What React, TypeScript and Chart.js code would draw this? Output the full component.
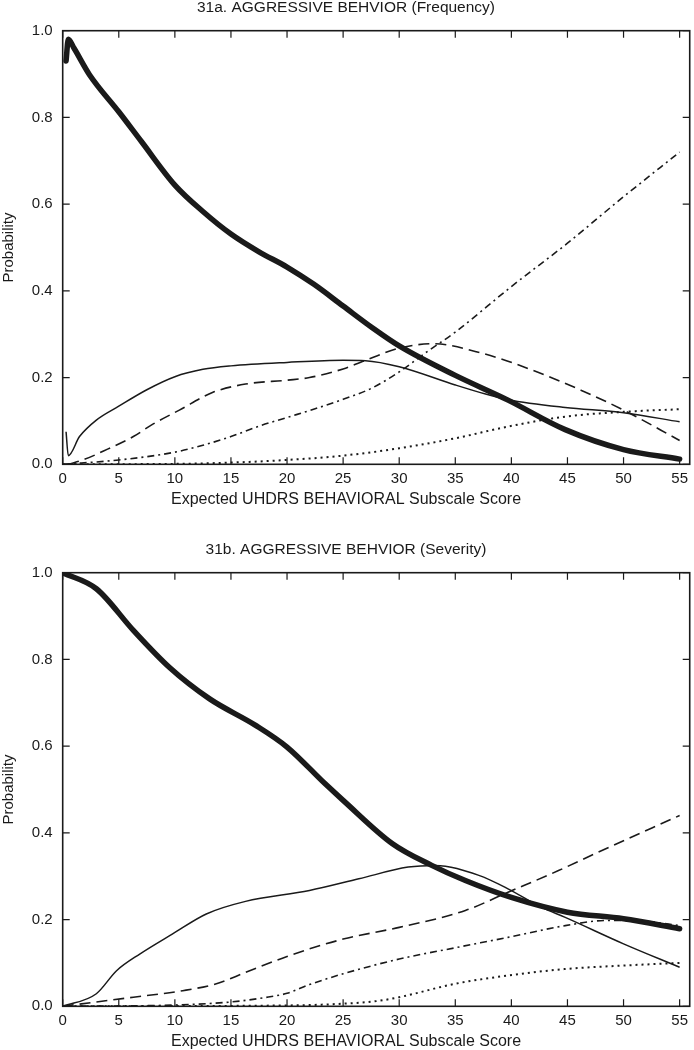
import React, { useEffect, useRef } from "react";
import { Chart, registerables } from "chart.js";

Chart.register(...registerables);

// ---------- Data ----------
const xTicks = [0, 5, 10, 15, 20, 25, 30, 35, 40, 45, 50, 55];
const yTicks = [0, 0.2, 0.4, 0.6, 0.8, 1.0];

// 31a. Frequency
const aThickX = [0.3, 0.5, 1, 2.4, 5, 7, 10, 12.5, 15, 17.5, 20, 22.4, 25, 27.6, 30, 35, 39.7, 44.8, 50, 55];
const aThickY = [0.93, 0.98, 0.96, 0.898, 0.813, 0.745, 0.644, 0.583, 0.531, 0.49, 0.455, 0.415, 0.365, 0.315, 0.273, 0.205, 0.148, 0.08, 0.034, 0.012];
const aThinX = [0.3, 0.5, 1.5, 3, 5, 7.5, 10, 12.5, 15, 20, 25, 27, 30, 35, 37.7, 39.7, 44.8, 50, 55];
const aThinY = [0.075, 0.02, 0.064, 0.102, 0.134, 0.172, 0.202, 0.219, 0.227, 0.235, 0.24, 0.239, 0.225, 0.183, 0.162, 0.149, 0.131, 0.119, 0.098];
const aDashX = [0.5, 2, 4, 6.3, 8, 10.4, 13.4, 16.3, 20, 22, 25, 28, 30, 33, 37.4, 41.8, 46.2, 50, 55];
const aDashY = [0, 0.012, 0.035, 0.064, 0.092, 0.125, 0.166, 0.185, 0.194, 0.2, 0.22, 0.25, 0.268, 0.278, 0.256, 0.218, 0.171, 0.125, 0.055];
const aDashDotX = [0, 5, 10, 12.5, 15, 17.5, 20, 22.5, 25, 27.5, 30, 32.5, 35, 40, 45, 50, 55];
const aDashDotY = [0, 0.01, 0.028, 0.044, 0.064, 0.088, 0.108, 0.128, 0.15, 0.175, 0.213, 0.26, 0.305, 0.41, 0.51, 0.617, 0.72];
const aDotX = [0, 10, 15, 20, 25, 30, 35, 39.7, 44.8, 50, 55];
const aDotY = [0, 0.001, 0.004, 0.01, 0.02, 0.037, 0.06, 0.087, 0.11, 0.121, 0.127];

// 31b. Severity
const bThickX = [0, 3, 6.3, 9.5, 13.1, 17.2, 20, 23.4, 25, 29.4, 32.9, 35.9, 40, 45, 50, 55];
const bThickY = [1.0, 0.963, 0.867, 0.782, 0.709, 0.648, 0.598, 0.513, 0.475, 0.375, 0.325, 0.29, 0.251, 0.217, 0.202, 0.179];
const bThinX = [0, 3, 4.8, 6.9, 9.8, 12.8, 16.3, 22, 26.4, 30.8, 33.2, 37.1, 39.7, 42.7, 44.8, 50, 55];
const bThinY = [0, 0.029, 0.082, 0.121, 0.167, 0.213, 0.242, 0.267, 0.294, 0.321, 0.325, 0.302, 0.271, 0.228, 0.205, 0.144, 0.09];
const bDashX = [0, 3, 6.3, 10.7, 13.7, 16.3, 20, 25, 30, 35.9, 39.7, 44.2, 47.7, 55];
const bDashY = [0, 0.01, 0.021, 0.036, 0.052, 0.078, 0.115, 0.155, 0.182, 0.221, 0.263, 0.313, 0.355, 0.44];
const bDashDotX = [0, 10, 15, 18, 20, 22, 25, 30, 35, 39.7, 44.8, 48.5, 52, 55];
const bDashDotY = [0, 0.003, 0.01, 0.02, 0.03, 0.05, 0.075, 0.109, 0.135, 0.159, 0.186, 0.198, 0.196, 0.186];
const bDotX = [0, 20, 25, 28, 30, 35, 39.7, 44.8, 50, 55];
const bDotY = [0, 0.002, 0.006, 0.012, 0.021, 0.052, 0.071, 0.086, 0.094, 0.1];

const titleA = "31a. AGGRESSIVE BEHVIOR (Frequency)";
const titleB = "31b. AGGRESSIVE BEHVIOR (Severity)";
const xTitle = "Expected UHDRS BEHAVIORAL Subscale Score";
const yTitle = "Probability";

// ---------- Styling ----------
const FONT = "'Liberation Sans', Arial, Helvetica, sans-serif";
const INK = "#1a1a1a";
const PLOT_TOP = 30.7;
const PLOT_BOTTOM = 464.3;
const PLOT_LEFT = 62.7;
const TITLE_SIZE = 15.5;
const XTITLE_SIZE = 16;
const XTITLE_LH = XTITLE_SIZE * 1.2;

const zip = (xs: number[], ys: number[]) => xs.map((x, i) => ({ x, y: ys[i] }));

const framePlugin = {
  id: "frame",
  afterDraw(chart: any) {
    const { ctx, chartArea: a, scales } = chart;
    const x = scales.x;
    const y = scales.y;
    ctx.save();
    ctx.strokeStyle = INK;
    ctx.lineWidth = 1.2;
    ctx.beginPath();
    const len = 7;
    xTicks.forEach((v) => {
      const px = x.getPixelForValue(v);
      ctx.moveTo(px, a.bottom);
      ctx.lineTo(px, a.bottom - len);
      ctx.moveTo(px, a.top);
      ctx.lineTo(px, a.top + len);
    });
    yTicks.forEach((v) => {
      const py = y.getPixelForValue(v);
      ctx.moveTo(a.left, py);
      ctx.lineTo(a.left + len, py);
      ctx.moveTo(a.right, py);
      ctx.lineTo(a.right - len, py);
    });
    ctx.stroke();
    ctx.lineWidth = 1.6;
    ctx.strokeRect(a.left, a.top, a.right - a.left, a.bottom - a.top);
    ctx.restore();
  },
};

type Series = { xs: number[]; ys: number[] };

function makeConfig(title: string, height: number, thick: Series, thin: Series, dash: Series, dashDot: Series, dot: Series): any {
  const line = (s: Series, width: number, dashArr: number[], cap: CanvasLineCap = "butt") => ({
    data: zip(s.xs, s.ys),
    borderColor: INK,
    borderWidth: width,
    borderDash: dashArr,
    borderCapStyle: cap,
    pointRadius: 0,
    fill: false,
    cubicInterpolationMode: "monotone",
  });
  // subtitle used as the x-axis caption, centered on the whole figure width
  const xTitleCenter = PLOT_BOTTOM + 35;
  const subPadBottom = height - xTitleCenter - XTITLE_LH / 2;
  const subHeight = XTITLE_LH + subPadBottom;
  return {
    type: "line",
    data: {
      datasets: [
        line(dot, 2, [2, 4]),
        line(dashDot, 1.6, [7, 4, 2, 4]),
        line(dash, 1.6, [11, 6]),
        line(thin, 1.5, []),
        line(thick, 5.5, [], "round"),
      ],
    },
    options: {
      responsive: false,
      animation: false,
      devicePixelRatio: 1,
      layout: { padding: { left: 0, right: 2, top: 0, bottom: 0 } },
      plugins: {
        legend: { display: false },
        tooltip: { enabled: false },
        title: {
          display: true,
          text: title,
          color: INK,
          font: { family: FONT, size: TITLE_SIZE, weight: "normal", lineHeight: 1 },
          padding: { top: 0, bottom: PLOT_TOP - TITLE_SIZE },
        },
        subtitle: {
          display: true,
          position: "bottom",
          text: xTitle,
          color: INK,
          font: { family: FONT, size: XTITLE_SIZE, weight: "normal", lineHeight: 1.2 },
          padding: { top: 0, bottom: subPadBottom },
        },
      },
      scales: {
        x: {
          type: "linear",
          min: 0,
          max: 55.9,
          grid: { display: false, drawTicks: false },
          border: { display: false },
          afterBuildTicks: (s: any) => {
            s.ticks = xTicks.map((v) => ({ value: v }));
          },
          afterFit: (s: any) => {
            s.height = height - PLOT_BOTTOM - subHeight;
          },
          ticks: {
            color: INK,
            font: { family: FONT, size: 15 },
            padding: 6,
            maxRotation: 0,
            autoSkip: false,
          },
          title: { display: false },
        },
        y: {
          type: "linear",
          min: 0,
          max: 1,
          grid: { display: false, drawTicks: false },
          border: { display: false },
          afterBuildTicks: (s: any) => {
            s.ticks = yTicks.map((v) => ({ value: v }));
          },
          afterFit: (s: any) => {
            s.width = PLOT_LEFT;
          },
          ticks: {
            color: INK,
            font: { family: FONT, size: 15 },
            padding: 10,
            callback: (v: any) => Number(v).toFixed(1),
          },
          title: {
            display: true,
            text: yTitle,
            color: INK,
            font: { family: FONT, size: 15, lineHeight: 1.2 },
            padding: { top: 0, bottom: 0 },
          },
        },
      },
    },
    plugins: [framePlugin],
  };
}

function ChartCanvas({ config, width, height, top }: { config: any; width: number; height: number; top: number }) {
  const ref = useRef<HTMLCanvasElement | null>(null);
  useEffect(() => {
    if (!ref.current) return;
    const chart = new Chart(ref.current, config);
    return () => chart.destroy();
  }, [config]);
  return (
    <canvas
      ref={ref}
      width={width}
      height={height}
      style={{ position: "absolute", left: 0, top, width, height, display: "block" }}
    />
  );
}

const TOP_H = 542;
const BOT_H = 508;

const configA = makeConfig(
  titleA,
  TOP_H,
  { xs: aThickX, ys: aThickY },
  { xs: aThinX, ys: aThinY },
  { xs: aDashX, ys: aDashY },
  { xs: aDashDotX, ys: aDashDotY },
  { xs: aDotX, ys: aDotY }
);
const configB = makeConfig(
  titleB,
  BOT_H,
  { xs: bThickX, ys: bThickY },
  { xs: bThinX, ys: bThinY },
  { xs: bDashX, ys: bDashY },
  { xs: bDashDotX, ys: bDashDotY },
  { xs: bDotX, ys: bDotY }
);

export default function App() {
  return (
    <div style={{ position: "absolute", left: 0, top: 0, width: 694, height: 1050, background: "#fff", overflow: "hidden" }}>
      <ChartCanvas config={configA} width={694} height={TOP_H} top={0} />
      <ChartCanvas config={configB} width={694} height={BOT_H} top={TOP_H} />
    </div>
  );
}
